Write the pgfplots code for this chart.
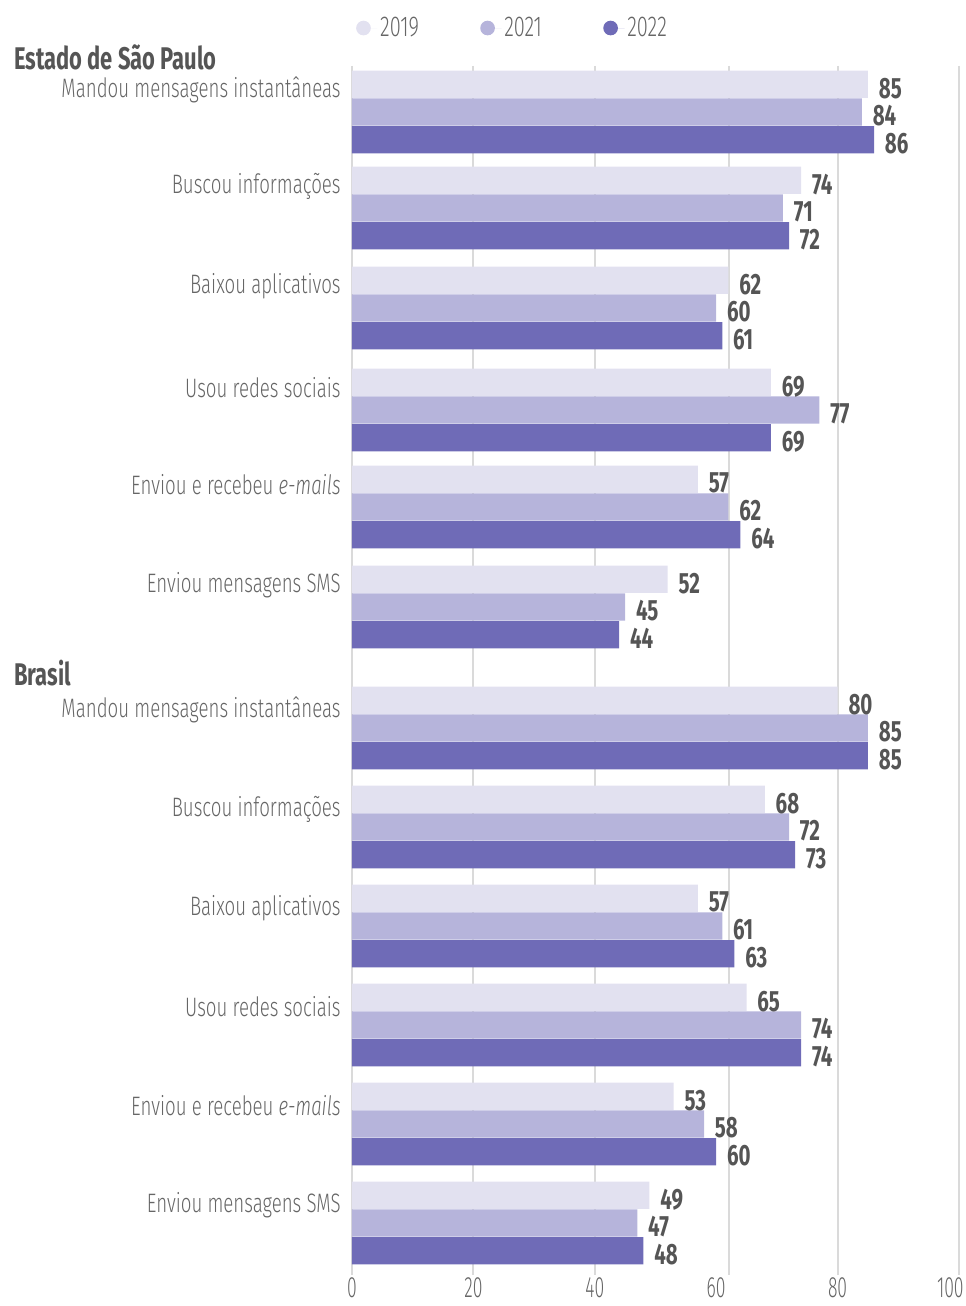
\documentclass[border=0pt]{standalone}
\usepackage{fontspec}
\setmainfont{Fira Sans}[UprightFont={* Light}, ItalicFont={* Light Italic}, BoldFont={* Bold}, FakeStretch=0.70]
\newfontfamily\tickfont{Fira Sans}[UprightFont={* Light}, FakeStretch=0.6]
\usepackage{pgfplots}
\pgfplotsset{compat=1.18}
\usepackage{pgfplotstable}
\definecolor{c19}{HTML}{E2E1F0}
\definecolor{c21}{HTML}{B6B4DB}
\definecolor{c22}{HTML}{6F6BB7}
\definecolor{lab}{HTML}{555555}
\definecolor{txt}{HTML}{666666}
\definecolor{gridc}{HTML}{DADADA}
\pgfplotstableread{
y v19 v21 v22
112 85 84 86
208 74 71 72
308 62 60 61
410 69 77 69
507 57 62 64
607 52 45 44
728 80 85 85
827 68 72 73
926 57 61 63
1025 65 74 74
1124 53 58 60
1223 49 47 48
}\data
\begin{document}
\begin{tikzpicture}
\begin{axis}[
  scale only axis, width=455.25pt, height=906.75pt,
  xmin=0, xmax=100, ymin=66, ymax=1275, y dir=reverse,
  enlargelimits=false, clip=false,
  axis line style={draw=none},
  major tick length=0pt,
  xtick={0,20,40,60,80,100},
  xticklabels={0,20,40,60,80,\hspace*{-13pt}100},
  ytick={90,186,286,388,485,585,710,809,908,1007,1106,1205},
  yticklabels={Mandou mensagens instantâneas,Buscou informações,Baixou aplicativos,Usou redes sociais,Enviou e recebeu \textit{e-mails},Enviou mensagens SMS,Mandou mensagens instantâneas,Buscou informações,Baixou aplicativos,Usou redes sociais,Enviou e recebeu \textit{e-mails},Enviou mensagens SMS},
  extra x ticks={0,20,40,62.1,80,100},
  extra x tick labels={},
  extra x tick style={grid=major, major grid style={gridc, line width=1.5pt}},
  /pgf/number format/assume math mode=true,
  tick label style={font=\fontsize{20}{24}\selectfont, text=txt},
  yticklabel style={anchor=east, xshift=-5pt},
  xticklabel style={font=\tickfont\fontsize{22}{24}\selectfont, anchor=north, inner sep=0pt, yshift=-2pt},
  xbar, bar width=27.2,
  nodes near coords,
  nodes near coords style={font=\fontsize{22}{26}\selectfont\bfseries, text=lab, anchor=west, inner sep=0pt, xshift=8pt, yshift=-3pt},
  legend style={at={(axis description cs:0.265,1.0314)}, anchor=center, draw=none, fill=none,
    legend columns=3, font=\fontsize{21.5}{24}\selectfont, text=txt,
    /tikz/every even column/.append style={column sep=44pt}},
  legend image code/.code={\fill[#1] (0pt,0pt) circle (5.5pt); \path (-5.5pt,0pt) -- (10.5pt,0pt);},
]
\addplot[fill=c19, draw=none, bar shift=-27.7] table[x=v19, y=y]{\data};
\addplot[fill=c21, draw=none, bar shift=0] table[x=v21, y=y]{\data};
\addplot[fill=c22, draw=none, bar shift=27.7] table[x=v22, y=y]{\data};
\legend{2019,2021,2022}
\node[anchor=west, font=\fontsize{23.5}{26}\selectfont\bfseries, text=lab, inner sep=0pt] at (axis cs:-55.7,57) {Estado de São Paulo};
\node[anchor=west, font=\fontsize{23.5}{26}\selectfont\bfseries, text=lab, inner sep=0pt] at (axis cs:-55.7,673) {Brasil};
\coordinate (BL) at (axis cs:-57.99,1306);
\coordinate (TR) at (axis cs:101.15,0);
\end{axis}
\pgfresetboundingbox
\path (BL) rectangle (TR);
\end{tikzpicture}
\end{document}
